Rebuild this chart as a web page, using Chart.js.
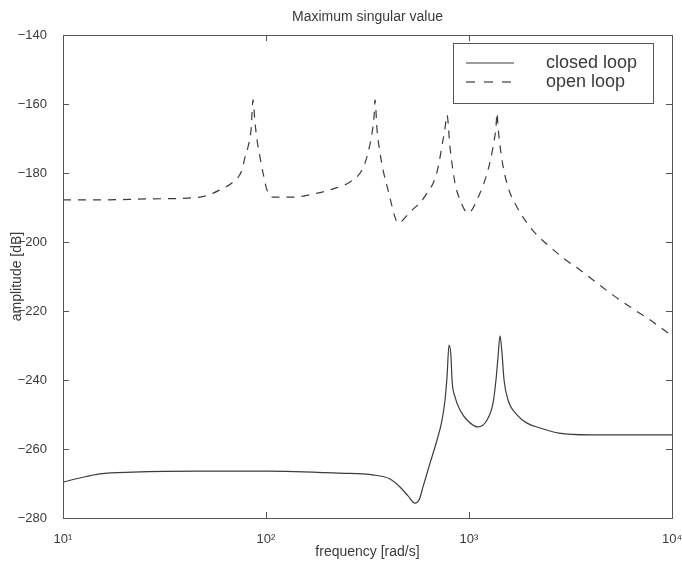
<!DOCTYPE html>
<html>
<head>
<meta charset="utf-8">
<script src="https://cdn.jsdelivr.net/npm/chart.js@4/dist/chart.umd.min.js"></script>
<style>
  html, body { margin: 0; padding: 0; background: #ffffff; }
  #wrap { width: 682px; height: 565px; }
</style>
</head>
<body>
<div id="wrap"><canvas id="grafico" width="682" height="565"></canvas></div>
<script>
// datos (frecuencia en rad/s, amplitud en dB)
const openFreq = [10, 15.2, 26.8, 47.3, 59.3, 68.8, 76.2, 78.8, 81.5, 84.4, 86.3, 88.3, 90.3, 93.4, 96.7, 101.1, 108.3,
  135.8, 170.4, 213.8, 259.3, 297.2, 318.0, 332.8, 340.4, 344.4, 352.4, 364.6, 377.2, 399.1, 432.1, 446.9,
  512.2, 607.4, 695.9, 744.6, 761.8, 779.3, 806.2, 853.2, 903.1, 989, 1133, 1241, 1313, 1358, 1374,
  1390, 1454, 1557, 1724, 1931, 2163, 2506, 2904, 3523, 4272, 5122, 6211, 7533, 10000];
const openDb = [-187.8, -187.8, -187.5, -187.0, -184.9, -182.6, -179.1, -175.4, -172.5, -167.5, -158.8, -165.5, -170.4, -175.4, -180.0, -184.9, -187.0,
  -187.0, -186.1, -184.6, -182.6, -179.1, -174.2, -168.4, -163.8, -158.8, -167.5, -174.2, -179.1, -184.9, -192.8, -194.5,
  -191.3, -186.7, -179.7, -170.4, -167.0, -163.2, -172.5, -182.9, -187.8, -191.6, -185.8, -179.1, -172.5, -166.7, -162.6,
  -166.7, -176.2, -184.1, -189.9, -194.5, -198.0, -201.4, -204.6, -208.1, -211.9, -215.4, -218.8, -222.0, -227.2];

const closedFreq = [10, 12.1, 15.2, 22.1, 47.3, 101.1, 231.5, 336.6, 408.2, 457.1, 500.7, 542.0, 567.2, 593.5,
  642.7, 695.9, 736.5, 761.8, 779.3, 797.2, 815.5, 824.8, 853.2, 903.1, 977.5, 1107, 1227, 1313, 1358, 1390, 1422,
  1454, 1488, 1557, 1724, 1931, 2238, 2776, 3946, 6211, 10000];
const closedDb = [-269.6, -268.4, -267.2, -266.7, -266.4, -266.4, -267.0, -267.5, -268.7, -271.0, -273.6, -275.7, -274.8, -271.0,
  -264.1, -257.4, -251.6, -245.8, -239.1, -229.9, -233.3, -240.0, -244.9, -248.7, -251.6, -253.6, -251.6, -246.7, -240.0, -233.3, -227.2,
  -232.2, -240.0, -245.8, -250.1, -252.5, -253.9, -255.4, -255.9, -255.9, -255.9];

const yTicks = [-140, -160, -180, -200, -220, -240, -260, -280];
const xTicks = [10, 100, 1000, 10000];
const xTickLabels = ['10\u00B9', '10\u00B2', '10\u00B3', '10\u2074'];

const colorLinea = '#3c3c3c';
const colorEje = '#555555';
const colorTexto = '#3a3a3a';
const fuente = "'Liberation Sans', Arial, sans-serif";

// caja, marcas hacia adentro y leyenda estilo MATLAB
const cajaPlugin = {
  id: 'caja',
  afterDraw(chart) {
    const { ctx, chartArea: a, scales } = chart;
    ctx.save();
    ctx.strokeStyle = colorEje;
    ctx.lineWidth = 1;
    ctx.strokeRect(a.left + 0.5, a.top + 0.5, a.right - a.left, a.bottom - a.top);
    ctx.beginPath();
    yTicks.forEach(v => {
      const y = Math.round(scales.y.getPixelForValue(v)) + 0.5;
      ctx.moveTo(a.left, y); ctx.lineTo(a.left + 6, y);
      ctx.moveTo(a.right, y); ctx.lineTo(a.right - 6, y);
    });
    xTicks.forEach(v => {
      const x = Math.round(scales.x.getPixelForValue(v)) + 0.5;
      ctx.moveTo(x, a.bottom); ctx.lineTo(x, a.bottom - 6);
      ctx.moveTo(x, a.top); ctx.lineTo(x, a.top + 6);
    });
    ctx.stroke();

    // leyenda
    const bx = a.right - 219, by = a.top + 8, bw = 200, bh = 60;
    ctx.fillStyle = '#ffffff';
    ctx.fillRect(bx, by, bw, bh);
    ctx.strokeRect(bx + 0.5, by + 0.5, bw, bh);
    ctx.font = '18px ' + fuente;
    ctx.textBaseline = 'middle';
    chart.data.datasets.forEach((ds, i) => {
      const ly = by + 20 + i * 19;
      ctx.strokeStyle = ds.borderColor;
      ctx.lineWidth = ds.borderWidth;
      ctx.setLineDash(ds.borderDash ? [9, 9] : []);
      ctx.beginPath();
      ctx.moveTo(bx + 13, ly); ctx.lineTo(bx + 61, ly);
      ctx.stroke();
      ctx.setLineDash([]);
      ctx.fillStyle = colorTexto;
      ctx.fillText(ds.label, bx + 93, ly);
    });
    ctx.restore();
  }
};

const puntos = (fs, ds) => fs.map((f, i) => ({ x: f, y: ds[i] }));

new Chart(document.getElementById('grafico'), {
  type: 'line',
  data: {
    datasets: [
      { label: 'closed loop', data: puntos(closedFreq, closedDb), borderColor: colorLinea, borderWidth: 1.2, pointRadius: 0, cubicInterpolationMode: 'monotone', fill: false },
      { label: 'open loop', data: puntos(openFreq, openDb), borderColor: colorLinea, borderWidth: 1.2, borderDash: [8, 7], pointRadius: 0, cubicInterpolationMode: 'monotone', fill: false }
    ]
  },
  options: {
    responsive: false,
    animation: false,
    layout: { padding: { left: 0, right: 10, top: 0, bottom: 0 } },
    plugins: {
      legend: { display: false },
      tooltip: { enabled: false },
      title: {
        display: true,
        text: 'Maximum singular value',
        fullSize: false,
        color: colorTexto,
        font: { family: fuente, size: 14, weight: 'normal', lineHeight: 1.2 },
        padding: { top: 9, bottom: 9.2 }
      }
    },
    scales: {
      x: {
        type: 'logarithmic',
        min: 10,
        max: 10000,
        grid: { display: false },
        border: { display: false },
        afterBuildTicks: s => { s.ticks = xTicks.map(v => ({ value: v })); },
        afterFit: s => { s.height = 47; s.paddingLeft = 0; s.paddingRight = 0; },
        ticks: {
          color: colorTexto,
          font: { family: fuente, size: 13 },
          padding: 6,
          maxRotation: 0,
          autoSkip: false,
          callback: v => xTickLabels[xTicks.indexOf(v)] ?? ''
        },
        title: {
          display: true,
          text: 'frequency [rad/s]',
          color: colorTexto,
          font: { family: fuente, size: 14 },
          padding: { top: 0, bottom: 4 }
        }
      },
      y: {
        min: -280,
        max: -140,
        grid: { display: false },
        border: { display: false },
        afterBuildTicks: s => { s.ticks = yTicks.map(v => ({ value: v })); },
        afterFit: s => { s.width = 63; s.paddingTop = 0; s.paddingBottom = 0; },
        ticks: {
          color: colorTexto,
          font: { family: fuente, size: 13 },
          padding: 8,
          callback: v => String(v).replace('-', '\u2212')
        },
        title: {
          display: true,
          text: 'amplitude [dB]',
          color: colorTexto,
          font: { family: fuente, size: 14 },
          padding: { top: 9, bottom: 0 }
        }
      }
    }
  },
  plugins: [cajaPlugin]
});
</script>
</body>
</html>
